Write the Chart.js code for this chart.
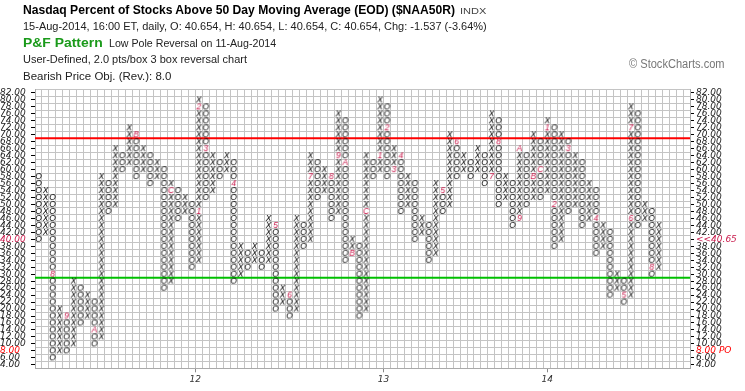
<!DOCTYPE html>
<html>
<head>
<meta charset="utf-8">
<script src="https://cdn.jsdelivr.net/npm/chart.js@4.4.1/dist/chart.umd.min.js"></script>
<style>
  body { margin: 0; background: #fff; width: 745px; height: 391px; overflow: hidden; position: relative; font-family: "Liberation Sans", Arial, sans-serif; }
  #box { position: absolute; left: 0; top: 0; width: 745px; height: 391px; }
  .t { position: absolute; white-space: nowrap; transform-origin: 0 0; color: #000; }
</style>
</head>
<body>
<div id="box"><canvas id="pf" width="745" height="391"></canvas></div>

<div class="t" style="left:23px;top:3px;font-size:12px;font-weight:bold;" data-w="432">Nasdaq Percent of Stocks Above 50 Day Moving Average (EOD) ($NAA50R)</div>
<div class="t" style="left:460px;top:6px;font-size:9px;color:#444;" data-w="27">INDX</div>
<div class="t" style="left:23px;top:21px;font-size:10px;color:#222;" data-w="464">15-Aug-2014, 16:00 ET, daily, O: 40.654, H: 40.654, L: 40.654, C: 40.654, Chg: -1.537 (-3.64%)</div>
<div class="t" style="left:23px;top:36px;font-size:12px;font-weight:bold;color:#1a9a1a;" data-w="80">P&amp;F Pattern</div>
<div class="t" style="left:109px;top:38px;font-size:10px;color:#222;" data-w="167">Low Pole Reversal on 11-Aug-2014</div>
<div class="t" style="left:23px;top:54px;font-size:10px;color:#222;" data-w="224">User-Defined, 2.0 pts/box 3 box reversal chart</div>
<div class="t" style="left:23px;top:71px;font-size:10px;color:#222;" data-w="148">Bearish Price Obj. (Rev.): 8.0</div>
<div class="t" style="left:629px;top:57px;font-size:12px;color:#777;" data-w="96">© StockCharts.com</div>

<script>
// P&F columns (2.0 pts/box, 3 box reversal); column 1 is an O column, then X, O, X ...
const colHigh = [58,54,52,20,18,28,26,24,22,58, 56,66,64,72,70,66,64,62,60,56, 54,52,50,80,78,64,62,64,62,38,
                 36,38,36,46,44,26,24,46,44,64, 62,60,58,76,74,40,38,64,62,80, 78,66,64,58,56,46,44,56,54,70,
                 68,64,62,66,64,76,74,58,56,66, 64,70,68,74,72,70,68,64,62,56, 54,44,42,30,28,78,76,50,48,44];
const colLow  = [40,42,6,8,8,10,16,18,10,12, 48,50,60,62,58,60,56,58,26,28, 46,48,32,34,52,54,58,60,28,30,
                 32,34,32,34,20,22,18,20,38,40, 52,54,46,48,34,36,18,20,58,60, 58,60,48,50,40,42,34,36,48,50,
                 58,60,58,60,56,58,50,52,44,46, 50,52,52,54,38,40,48,50,44,46, 36,38,24,26,22,24,44,46,30,32];
const firstType = 'O';
const axisCols = 94;

// month markers written in place of a box (1-9 = Jan-Sep, A/B/C = Oct-Dec)
const monCol = [3, 5, 9, 15, 20, 24, 24, 25, 29, 35, 37, 40, 43, 44, 45, 46, 48, 50, 51, 52, 53, 59, 61, 66, 67, 70, 70, 72, 73, 74, 75, 77, 81, 85, 86, 86, 89];
const monVal = [30, 18, 14, 70, 54, 48, 78, 66, 56, 44, 24, 58, 58, 64, 62, 36, 48, 64, 72, 60, 64, 54, 68, 58, 68, 46, 66, 58, 60, 72, 50, 66, 46, 24, 46, 72, 32];
const monTxt = ['8','9','A','B','C','1','2','3','4','5','6','7','8','9','A','B','C','1','2','3','4','5','6','7','8','9','A','B','C','1','2','3','4','5','6','7','8'];

// axis labels
const yearPos = [23.5, 50.5, 74];
const yearTxt = ['12', '13', '14'];
const lastPrice = 40.65;
const priceObj = 8;
const resistLine = 69;
const supportLine = 29;

const nCols = colHigh.length;
const GLYPH_FONT = 'italic 8.5px "Liberation Sans"';

function glyph(ch, color) {
  const c = document.createElement('canvas');
  c.width = 9; c.height = 9;
  const g = c.getContext('2d');
  g.font = GLYPH_FONT;
  g.fillStyle = color;
  g.textAlign = 'center';
  g.textBaseline = 'middle';
  g.fillText(ch, 4.5, 5);
  return c;
}
const imgX = glyph('X', '#000');
const imgO = glyph('O', '#000');
const monImg = {};
monTxt.forEach(t => { if (!monImg[t]) monImg[t] = glyph(t, '#c8184a'); });

// expand columns into boxes
const xs = [], os = [], mons = [], monStyles = [];
for (let i = 0; i < nCols; i++) {
  const col = i + 1;
  const isX = (i % 2 === 0) ? firstType === 'X' : firstType !== 'X';
  for (let v = colLow[i]; v <= colHigh[i]; v += 2) {
    const m = monCol.findIndex((c, k) => c === col && monVal[k] === v);
    if (m >= 0) {
      mons.push({ x: col, y: v });
      monStyles.push(monImg[monTxt[m]]);
    } else if (isX) {
      xs.push({ x: col, y: v });
    } else {
      os.push({ x: col, y: v });
    }
  }
}

const tickFont = { family: 'DejaVu Sans', size: 9, style: 'italic' };
const labelColor = c => (c.tick.value === 40 ? '#c8184a' : c.tick.value === priceObj ? '#ff0000' : '#222');

new Chart(document.getElementById('pf'), {
  type: 'scatter',
  data: {
    datasets: [
      { label: 'X', data: xs, pointStyle: imgX, pointRadius: 4, order: 1 },
      { label: 'O', data: os, pointStyle: imgO, pointRadius: 4, order: 1 },
      { label: 'month', data: mons, pointStyle: monStyles, pointRadius: 4, order: 1 },
      { type: 'line', label: 'resistance', data: [{ x: 0.5, y: resistLine }, { x: axisCols + 0.5, y: resistLine }],
        borderColor: '#ff0000', borderWidth: 2, pointRadius: 0, order: 3 },
      { type: 'line', label: 'support', data: [{ x: 0.5, y: supportLine }, { x: axisCols + 0.5, y: supportLine }],
        borderColor: '#00c000', borderWidth: 2, pointRadius: 0, order: 3 }
    ]
  },
  options: {
    responsive: false,
    animation: false,
    layout: { padding: { top: 89.5, left: 0, right: 0, bottom: 0 } },
    plugins: { legend: { display: false }, tooltip: { enabled: false } },
    scales: {
      x: {
        type: 'linear', min: 0.5, max: axisCols + 0.5,
        afterBuildTicks: s => { s.ticks = Array.from({ length: axisCols + 1 }, (_, i) => ({ value: i + 0.5 })); },
        ticks: { display: false },
        grid: { color: '#c4c4c4', drawTicks: false },
        border: { color: '#aaa' },
        afterFit: s => { s.height = 0; }
      },
      x2: {
        type: 'linear', position: 'bottom', min: 0.5, max: axisCols + 0.5,
        afterBuildTicks: s => { s.ticks = yearPos.map(v => ({ value: v })); },
        ticks: { callback: v => yearTxt[yearPos.indexOf(v)], font: tickFont, color: '#333', padding: 2, autoSkip: false, maxRotation: 0 },
        grid: { drawOnChartArea: false, tickLength: 4, color: '#888' },
        border: { display: false },
        afterFit: s => { s.height = 391 - 368.3; }
      },
      y: {
        position: 'left', min: 3, max: 83,
        ticks: {
          stepSize: 1, autoSkip: false, font: tickFont, padding: 3, crossAlign: 'far',
          callback: v => (v % 2 === 0 ? v.toFixed(2) : ''),
          color: labelColor
        },
        grid: {
          color: c => (c.tick && c.tick.value % 2 === 1 ? '#c4c4c4' : 'rgba(0,0,0,0)'),
          tickColor: c => (c.tick && c.tick.value % 2 === 0 ? '#000' : 'rgba(0,0,0,0)'),
          tickLength: 4
        },
        border: { color: '#aaa' },
        afterFit: s => { s.width = 35; }
      },
      y2: {
        position: 'right', min: 3, max: 83,
        ticks: {
          stepSize: 1, autoSkip: false, font: tickFont, padding: 2,
          callback: v => {
            if (v % 2 !== 0) return '';
            if (v === 40) return '<<' + lastPrice.toFixed(2);
            if (v === priceObj) return v.toFixed(2) + ' PO';
            return v.toFixed(2);
          },
          color: labelColor
        },
        grid: {
          drawOnChartArea: false,
          tickColor: c => (c.tick && c.tick.value % 2 === 0 ? '#000' : 'rgba(0,0,0,0)'),
          tickLength: 4
        },
        border: { color: '#aaa' },
        afterFit: s => { s.width = 55; }
      }
    }
  }
});

// squeeze header texts to the widths seen in the picture
document.querySelectorAll('.t').forEach(el => {
  const w = +el.dataset.w;
  if (w) el.style.transform = 'scaleX(' + (w / el.offsetWidth) + ')';
});
</script>
</body>
</html>
